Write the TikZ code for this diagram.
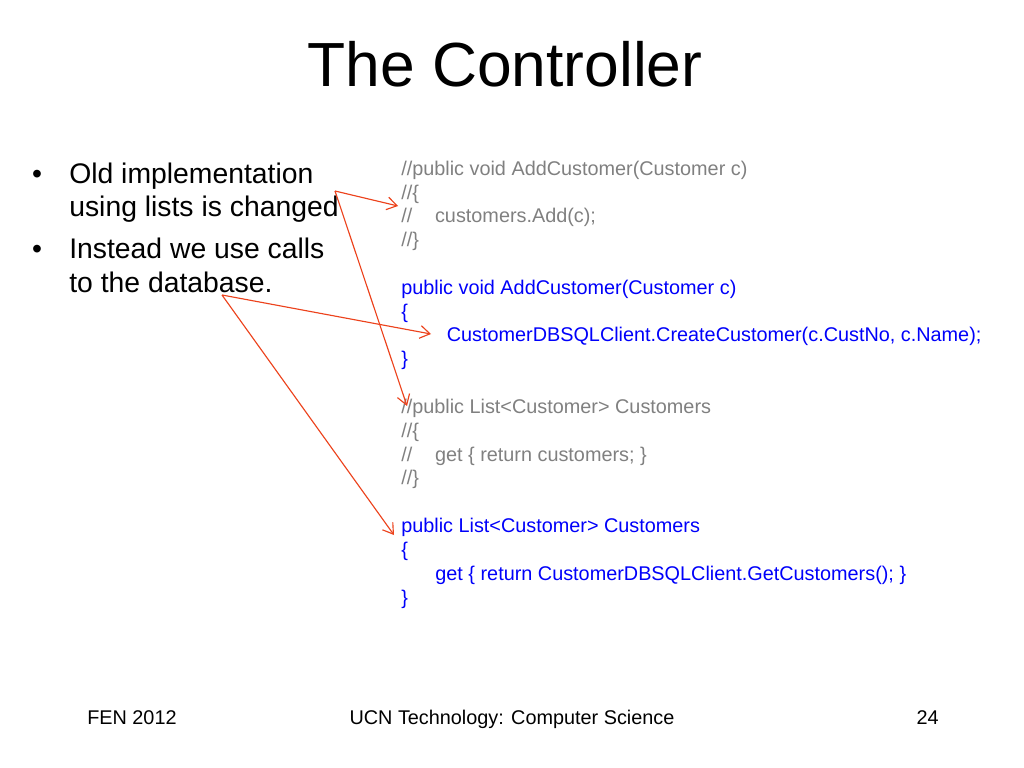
\documentclass[tikz,border=0pt]{standalone}
\usepackage{fontspec}
\setmainfont{Liberation Sans}
\usetikzlibrary{arrows.meta,positioning}
\definecolor{commentgray}{RGB}{128,128,128}
\definecolor{codeblue}{RGB}{0,0,250}
\definecolor{arrowred}{RGB}{236,66,28}
\tikzset{
  codetext/.style={anchor=base west,align=left,inner sep=0pt,font=\fontsize{14}{16.76}\selectfont},
  bullettext/.style={anchor=base west,align=left,inner sep=0pt,font=\fontsize{20}{23.9}\selectfont},
  footer/.style={inner sep=0pt,font=\fontsize{14}{16}\selectfont},
  pointer/.style={arrowred,line width=0.8bp,-{Straight Barb[length=7bp,width=9bp]}}
}
\begin{document}
\begin{tikzpicture}[x=0.703125bp,y=-0.703125bp]
    \useasboundingbox (0,0) rectangle (1024,768);
    \node[inner sep=0pt,anchor=base,font=\fontsize{44}{52}\selectfont] (title) at (505,87) {The Controller};

    % multi-line nodes sit on the baseline of their last line
    \node[bullettext] (old) at (69,217) {Old implementation\\using lists is changed};
    \node[bullettext] (instead) at (69,292) {Instead we use calls\\to the database.};
    \node[bullettext,anchor=base] (dot1) at (37,184) {•};
    \node[bullettext,anchor=base] (dot2) at (37,258) {•};

    \node[codetext,commentgray] (oldadd) at (401,246.5)
        {//public void AddCustomer(Customer c)\\//\{\\//\hspace{16bp}customers.Add(c);\\//\}};
    \node[codetext,codeblue] (newadd) at (401,365.7)
        {public void AddCustomer(Customer c)\\\{\\\hspace{32bp}CustomerDBSQLClient.CreateCustomer(c.CustNo, c.Name);\\\}};
    \node[codetext,commentgray] (oldlist) at (401,484.8)
        {//public List<Customer> Customers\\//\{\\//\hspace{16bp}get \{ return customers; \}\\//\}};
    \node[codetext,codeblue] (newlist) at (401,604)
        {public List<Customer> Customers\\\{\\\hspace{24bp}get \{ return CustomerDBSQLClient.GetCustomers(); \}\\\}};

    \coordinate (changed) at (335,191);
    \coordinate (database) at (222,295);
    \coordinate (toadd) at (398,206);
    \coordinate (tolist) at (407,406);
    \coordinate (tocreate) at (431,334);
    \coordinate (toget) at (394,535);
    \draw[pointer] (changed) -- (toadd);
    \draw[pointer] (changed) -- (tolist);
    \draw[pointer] (database) -- (tocreate);
    \draw[pointer] (database) -- (toget);

    \node[footer,anchor=base west] (fen) at (87,724) {FEN 2012};
    \node[footer,anchor=base] (ucn) at (512,724) {UCN Technology: Computer Science};
    \node[footer,anchor=base east] (page) at (939,724) {24};
\end{tikzpicture}
\end{document}
